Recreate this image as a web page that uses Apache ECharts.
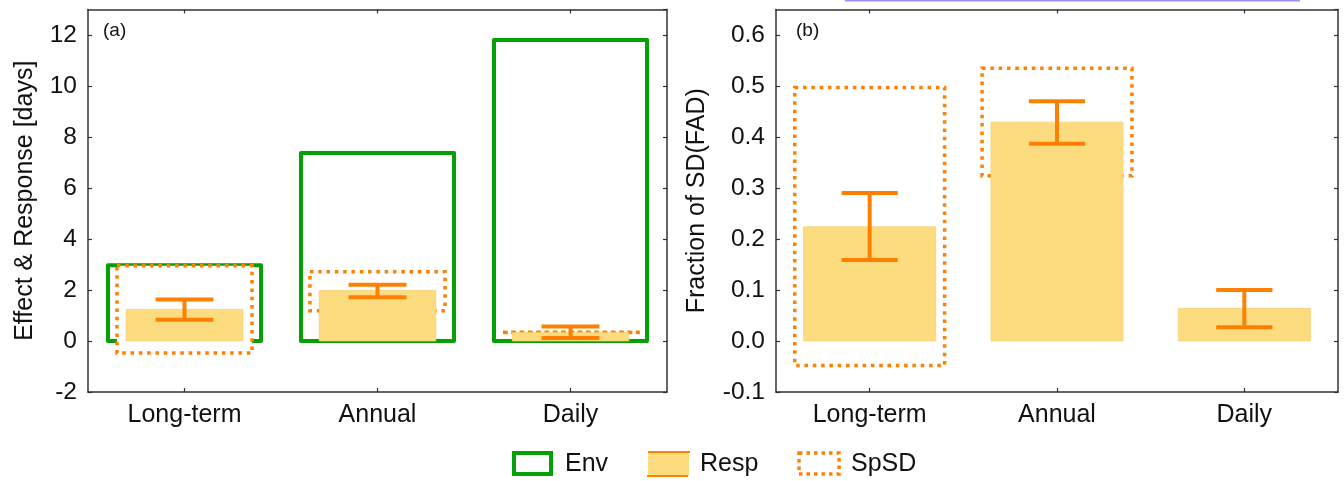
<!DOCTYPE html>
<html>
<head>
<meta charset="utf-8">
<script src="https://cdn.jsdelivr.net/npm/echarts@6/dist/echarts.min.js"></script>
<style>
html,body{margin:0;padding:0;background:#fff;}
#c{width:1344px;height:481px;}
</style>
</head>
<body>
<div id="c"></div>
<script>
// ---------- data ----------
const categories = ['Long-term', 'Annual', 'Daily'];

// panel (a): Effect & Response [days]
const envA = [2.97, 7.37, 11.8];
const respA = [1.24, 1.98, 0.33];
const respErrLowA = [0.83, 1.72, 0.12];
const respErrHighA = [1.63, 2.21, 0.57];
const spsdLowA = [-0.47, 1.19, 0.335];
const spsdHighA = [2.95, 2.72, 0.345];

// panel (b): Fraction of SD(FAD)
const respB = [0.224, 0.429, 0.064];
const respErrLowB = [0.159, 0.387, 0.027];
const respErrHighB = [0.290, 0.470, 0.100];
const spsdLowB = [-0.048, 0.324, null];
const spsdHighB = [0.497, 0.535, null];

const yTicksA = { min: -2, max: 13, interval: 2 };
const yTicksB = { min: -0.1, max: 0.65, interval: 0.1 };

// ---------- styles ----------
const GREEN = '#05A005';
const ORANGE = '#FF8000';
const YELLOW = '#FDDC80';
const FRAME = '#333333';
const FONT = '"Liberation Sans", Arial, sans-serif';

const chart = echarts.init(document.getElementById('c'), null, { renderer: 'canvas' });

function rectSeries(name, xi, yi, lows, highs, widthFrac, style, z) {
  return {
    name, type: 'custom', xAxisIndex: xi, yAxisIndex: yi, z,
    data: categories.map((c, i) => [i, lows[i], highs[i]]).filter(d => d[1] != null && d[2] != null),
    encode: { x: 0, y: [1, 2] },
    renderItem: function (params, api) {
      const lo = api.coord([api.value(0), api.value(1)]);
      const hi = api.coord([api.value(0), api.value(2)]);
      const w = api.size([1, 0])[0] * widthFrac;
      return {
        type: 'rect',
        shape: { x: lo[0] - w / 2, y: hi[1], width: w, height: lo[1] - hi[1] },
        style: style
      };
    }
  };
}

function errSeries(name, xi, yi, lows, highs, capFrac, z) {
  return {
    name, type: 'custom', xAxisIndex: xi, yAxisIndex: yi, z,
    data: categories.map((c, i) => [i, lows[i], highs[i]]),
    encode: { x: 0, y: [1, 2] },
    renderItem: function (params, api) {
      const lo = api.coord([api.value(0), api.value(1)]);
      const hi = api.coord([api.value(0), api.value(2)]);
      const cw = api.size([1, 0])[0] * capFrac / 2;
      const st = { stroke: ORANGE, lineWidth: 4, fill: null };
      return {
        type: 'group',
        children: [
          { type: 'line', shape: { x1: lo[0], y1: lo[1], x2: hi[0], y2: hi[1] }, style: st },
          { type: 'line', shape: { x1: lo[0] - cw, y1: lo[1], x2: lo[0] + cw, y2: lo[1] }, style: st },
          { type: 'line', shape: { x1: hi[0] - cw, y1: hi[1], x2: hi[0] + cw, y2: hi[1] }, style: st }
        ]
      };
    }
  };
}

const zeros = categories.map(() => 0);
const envStyle = { fill: null, stroke: GREEN, lineWidth: 4, lineJoin: 'round' };
const respStyle = { fill: YELLOW, stroke: 'rgba(245,205,110,0.7)', lineWidth: 1 };
const spsdStyle = { fill: '#ffffff', stroke: ORANGE, lineWidth: 3.5, lineDash: [3.5, 4.8], lineCap: 'butt' };

function catAxis(gi, pos, showLabel) {
  return {
    type: 'category', gridIndex: gi, data: categories, position: pos,
    boundaryGap: true,
    axisLine: { show: true, onZero: false, lineStyle: { color: FRAME, width: 1.5 } },
    axisTick: { show: true, inside: true, alignWithLabel: true, length: 4, lineStyle: { color: FRAME, width: 1.2 } },
    axisLabel: { show: showLabel, margin: 11, fontSize: 25, color: '#111', fontFamily: FONT },
    splitLine: { show: false }
  };
}
function valAxis(gi, pos, ticks, showLabel, name, nameGap, fmt) {
  return {
    type: 'value', gridIndex: gi, position: pos,
    min: ticks.min, max: ticks.max, interval: ticks.interval,
    name: showLabel ? name : '', nameLocation: 'middle', nameGap: nameGap,
    nameTextStyle: { fontSize: 25, color: '#111', fontFamily: FONT },
    axisLine: { show: true, onZero: false, lineStyle: { color: FRAME, width: 1.5 } },
    axisTick: { show: true, inside: true, length: 4, lineStyle: { color: FRAME, width: 1.2 } },
    axisLabel: { show: showLabel, margin: 11, fontSize: 24.5, color: '#111', fontFamily: FONT,
      showMaxLabel: false, formatter: fmt },
    splitLine: { show: false }
  };
}

const option = {
  animation: false,
  backgroundColor: '#ffffff',
  grid: [
    { left: 88, right: 677, top: 9.5, bottom: 89 },
    { left: 776, right: 6, top: 9.5, bottom: 89 }
  ],
  xAxis: [
    catAxis(0, 'bottom', true), catAxis(0, 'top', false),
    catAxis(1, 'bottom', true), catAxis(1, 'top', false)
  ],
  yAxis: [
    valAxis(0, 'left', yTicksA, true, 'Effect & Response [days]', 50, v => String(v)),
    valAxis(0, 'right', yTicksA, false, '', 0),
    valAxis(1, 'left', yTicksB, true, 'Fraction of SD(FAD)', 66, v => v.toFixed(1)),
    valAxis(1, 'right', yTicksB, false, '', 0)
  ],
  series: [
    // panel (a)
    rectSeries('Env', 0, 0, zeros, envA, 0.793, envStyle, 1),
    rectSeries('SpSD', 0, 0, spsdLowA, spsdHighA, 0.70, spsdStyle, 2),
    rectSeries('Resp', 0, 0, zeros, respA, 0.604, respStyle, 3),
    errSeries('Resp error', 0, 0, respErrLowA, respErrHighA, 0.30, 4),
    // panel (b)
    rectSeries('SpSD', 2, 2, spsdLowB, spsdHighB, 0.80, spsdStyle, 2),
    rectSeries('Resp', 2, 2, zeros, respB, 0.705, respStyle, 3),
    errSeries('Resp error', 2, 2, respErrLowB, respErrHighB, 0.30, 4)
  ],
  graphic: [
    { type: 'rect', left: 845, top: 0, shape: { width: 455, height: 1.5 }, style: { fill: '#a090ee' }, silent: true },
    { type: 'text', left: 103, top: 21, style: { text: '(a)', fontSize: 19, fontFamily: FONT, fill: '#111' } },
    { type: 'text', left: 796, top: 21, style: { text: '(b)', fontSize: 19, fontFamily: FONT, fill: '#111' } },
    // legend
    { type: 'rect', shape: { x: 514, y: 453, width: 37, height: 21 }, style: { fill: null, stroke: GREEN, lineWidth: 4 } },
    { type: 'text', x: 565, y: 464, style: { text: 'Env', fontSize: 25, fontFamily: FONT, fill: '#111', verticalAlign: 'middle' } },
    { type: 'rect', shape: { x: 648, y: 452, width: 41, height: 24 }, style: { fill: YELLOW } },
    { type: 'line', shape: { x1: 648, y1: 452, x2: 690, y2: 452 }, style: { stroke: ORANGE, lineWidth: 2 } },
    { type: 'line', shape: { x1: 647, y1: 476, x2: 688, y2: 476 }, style: { stroke: ORANGE, lineWidth: 2 } },
    { type: 'text', x: 700, y: 464, style: { text: 'Resp', fontSize: 25, fontFamily: FONT, fill: '#111', verticalAlign: 'middle' } },
    { type: 'rect', shape: { x: 799, y: 453, width: 40, height: 21 }, style: { fill: null, stroke: ORANGE, lineWidth: 3.5, lineDash: [3.5, 4] } },
    { type: 'text', x: 851, y: 464, style: { text: 'SpSD', fontSize: 25, fontFamily: FONT, fill: '#111', verticalAlign: 'middle' } }
  ]
};
chart.setOption(option);
</script>
</body>
</html>
